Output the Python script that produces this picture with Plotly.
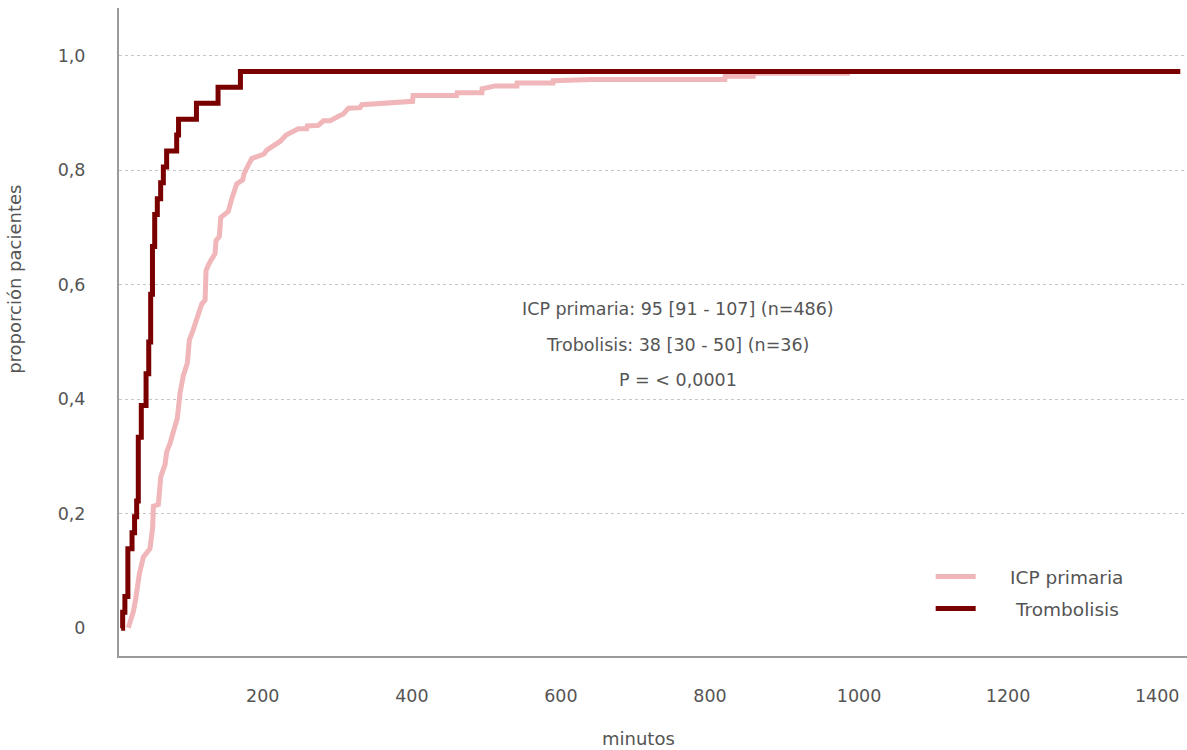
import plotly.graph_objects as go

# Tiempo hasta reperfusión (minutos) y proporción acumulada de pacientes
trombolisis_min = [10, 12, 15, 19, 24.6, 28, 30.8, 33, 37, 43.4, 47, 49.6, 52, 55,
                   58.5, 63, 66.6, 71, 84.5, 87, 111, 140, 170, 1431]
trombolisis_eventos = [0, 1, 2, 5, 6, 7, 8, 12, 14, 16, 18, 21, 24, 26,
                       27, 28, 29, 30, 31, 32, 33, 34, 35, 35]
trombolisis_n = 36

icp_min = [19.6, 26.3, 29.5, 34.4, 39.8, 48.7, 52.3, 53.2, 59.9, 61.2, 63.1, 68.9,
           71.1, 75.6, 79.2, 85.4, 89.0, 93.4, 98.8, 101.5, 106.9, 112.2, 118.1,
           122.6, 123.9, 129.3, 136.0, 137.3, 141.7, 143.6, 153.8, 158.4, 165.1,
           173.2, 174.9, 180.7, 185.2, 201.7, 205.4, 223.2, 231.3, 247.8, 259.0,
           259.9, 274.6, 281.3, 290.3, 301.5, 308.2, 314.9, 330.6, 332.9, 357.4,
           384.3, 401.0, 401.7, 460.0, 460.8, 494.0, 494.3, 511.8, 541.0, 541.3,
           589.4, 589.7, 642.0, 820.0, 820.5, 858.0, 858.3, 988.0]
icp_prop = [0.001, 0.029, 0.051, 0.095, 0.124, 0.139, 0.176, 0.213, 0.216, 0.242,
            0.264, 0.286, 0.308, 0.323, 0.338, 0.367, 0.411, 0.441, 0.463, 0.503,
            0.522, 0.544, 0.566, 0.573, 0.625, 0.640, 0.654, 0.677, 0.684, 0.717,
            0.728, 0.750, 0.776, 0.783, 0.794, 0.809, 0.820, 0.828, 0.835, 0.850,
            0.861, 0.872, 0.872, 0.877, 0.878, 0.886, 0.886, 0.894, 0.898, 0.908,
            0.909, 0.914, 0.916, 0.919, 0.920, 0.930, 0.930, 0.935, 0.935, 0.942,
            0.947, 0.947, 0.952, 0.952, 0.956, 0.958, 0.958, 0.964, 0.964, 0.969,
            0.969]

x_ticks = [200, 400, 600, 800, 1000, 1200, 1400]
y_ticks = [0, 0.2, 0.4, 0.6, 0.8, 1.0]
y_labels = ["0", "0,2", "0,4", "0,6", "0,8", "1,0"]
y_grid = [0.2, 0.4, 0.6, 0.8, 1.0]

resumen = [
    "ICP primaria: 95 [91 - 107] (n=486)",
    "Trobolisis: 38 [30 - 50] (n=36)",
    "P = < 0,0001",
]

FONT = "DejaVu Sans"
TXT = "#555555"
ROSA = "#f0b6b9"
GRANATE = "#7a0000"
NB = "\u00a0"

fig = go.Figure()
fig.add_trace(go.Scatter(
    x=icp_min, y=icp_prop, mode="lines", name=NB * 5 + "ICP primaria",
    line=dict(color=ROSA, width=5, shape="linear"), legend="legend",
))
fig.add_trace(go.Scatter(
    x=trombolisis_min, y=[e / trombolisis_n for e in trombolisis_eventos],
    mode="lines", name=NB * 6 + "Trombolisis",
    line=dict(color=GRANATE, width=5, shape="hv"), legend="legend2",
))

# eje auxiliar que solo dibuja la rejilla punteada
fig.add_trace(go.Scatter(x=[None], y=[None], yaxis="y2", showlegend=False,
                         hoverinfo="skip"))

y_range = [-0.0485, 1.083]
x_range = [7.1, 1440]

leyenda = dict(xanchor="left", yanchor="middle", bgcolor="rgba(0,0,0,0)",
               font=dict(family=FONT, size=18.5, color=TXT), itemwidth=40)

fig.update_layout(
    width=1187, height=750,
    margin=dict(l=119, r=0, t=8, b=94),
    paper_bgcolor="white", plot_bgcolor="white",
    font=dict(family=FONT, size=17, color=TXT),
    showlegend=True,
    legend=dict(x=0.760, y=0.1219, **leyenda),
    legend2=dict(x=0.760, y=0.0725, **leyenda),
    xaxis=dict(
        range=x_range, tickvals=x_ticks, showgrid=False, zeroline=False,
        showline=True, linecolor="#9a9a9a", linewidth=2, ticks="",
        ticklabelstandoff=23, tickfont=dict(family=FONT, size=17.5, color=TXT),
    ),
    yaxis=dict(
        range=y_range, tickvals=y_ticks, ticktext=y_labels, showgrid=False,
        zeroline=False, showline=True, linecolor="#9a9a9a", linewidth=2,
        ticks="", ticklabelstandoff=28,
        tickfont=dict(family=FONT, size=17.5, color=TXT),
    ),
    yaxis2=dict(
        range=y_range, overlaying="y", tickvals=y_grid, showticklabels=False,
        showgrid=True, gridcolor="#c6c6c6", gridwidth=1, griddash="3px,3px",
        zeroline=False, showline=False, ticks="",
    ),
)

for texto, yp in zip(resumen, [0.5355, 0.48, 0.426]):
    fig.add_annotation(
        text=texto, x=0.5234, y=yp, xref="paper", yref="paper",
        xanchor="center", yanchor="middle", showarrow=False,
        font=dict(family=FONT, size=17.5, color=TXT),
    )

# títulos de los ejes
fig.add_annotation(
    text="proporción pacientes", textangle=-90, x=-0.0974, y=0.582,
    xref="paper", yref="paper", xanchor="center", yanchor="middle",
    showarrow=False, font=dict(family=FONT, size=18, color=TXT),
)
fig.add_annotation(
    text="minutos", x=0.486, y=-0.128, xref="paper", yref="paper",
    xanchor="center", yanchor="middle", showarrow=False,
    font=dict(family=FONT, size=18, color=TXT),
)

fig.write_html("out.html")
